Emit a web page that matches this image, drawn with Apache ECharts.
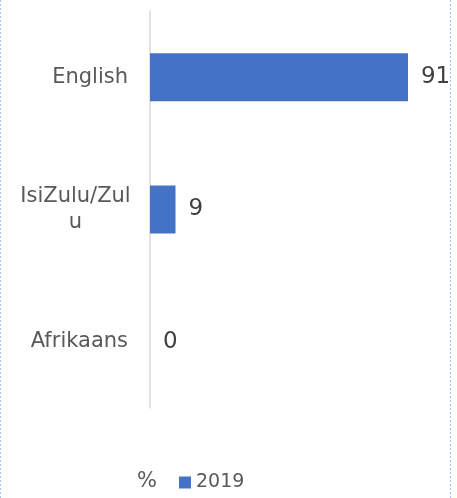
<!DOCTYPE html>
<html>
<head>
<meta charset="utf-8">
<script src="https://cdn.jsdelivr.net/npm/echarts@6/dist/echarts.min.js"></script>
<style>
html,body{margin:0;padding:0;background:#fff;}
#c{width:457px;height:498px;}
</style>
</head>
<body>
<div id="c"></div>
<script>
const categories = ['English', 'IsiZulu/Zulu', 'Afrikaans'];
const values2019 = [91, 9, 0];
const seriesName = '2019';
const unitLabel = '%';

const chart = echarts.init(document.getElementById('c'), null, {renderer: 'canvas'});
const FONT = 'DejaVu Sans';
chart.setOption({
  animation: false,
  backgroundColor: '#ffffff',
  grid: {left: 150, right: 23.5, top: 11, bottom: 90, containLabel: false},
  xAxis: {
    type: 'value', min: 0, max: 100, show: false,
    splitLine: {show: false}
  },
  yAxis: {
    type: 'category',
    data: categories,
    inverse: true,
    axisLine: {show: true, lineStyle: {color: '#d9d9d9', width: 1.5}},
    axisTick: {show: false},
    axisLabel: {
      margin: 22,
      fontFamily: FONT,
      fontSize: 21,
      color: '#595959',
      formatter: function (v) {
        if (v === 'IsiZulu/Zulu') return '{z|IsiZulu/Zul}\n{z|u}';
        return v;
      },
      rich: {
        z: {fontFamily: FONT, fontSize: 21, color: '#595959', width: 105, align: 'center', lineHeight: 26}
      }
    }
  },
  legend: {
    data: [seriesName],
    left: 179, top: 473, padding: 0,
    icon: 'rect', itemWidth: 12, itemHeight: 12, itemGap: 10,
    textStyle: {fontFamily: FONT, fontSize: 19, color: '#595959'}
  },
  series: [{
    name: seriesName,
    type: 'bar',
    data: values2019,
    barCategoryGap: '63.7%',
    itemStyle: {color: '#4472C4'},
    label: {
      show: true, position: 'right', distance: 13,
      fontFamily: FONT, fontSize: 23, color: '#404040'
    }
  }],
  graphic: [
    {type: 'text', left: 137, top: 471, style: {text: unitLabel, font: '21px "DejaVu Sans"', fill: '#595959'}},
    {type: 'line', shape: {x1: 0.5, y1: 0, x2: 0.5, y2: 498}, style: {stroke: '#a9c4f0', lineWidth: 1, lineDash: [2, 2]}},
    {type: 'line', shape: {x1: 450.5, y1: 0, x2: 450.5, y2: 498}, style: {stroke: '#a9c4f0', lineWidth: 1, lineDash: [2, 2]}}
  ]
});
</script>
</body>
</html>
